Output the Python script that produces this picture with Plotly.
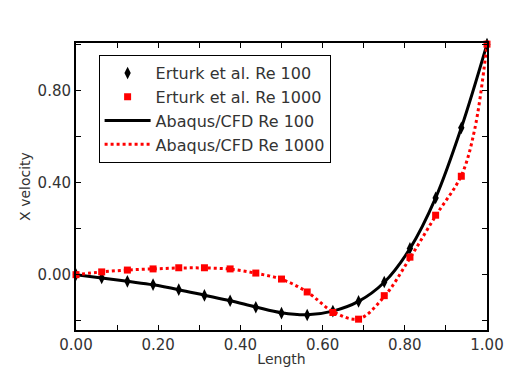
import plotly.graph_objects as go

# ---- data ----
length = [0.0, 0.0625, 0.125, 0.1875, 0.25, 0.3125, 0.375, 0.4375, 0.5,
          0.5625, 0.625, 0.6875, 0.75, 0.8125, 0.875, 0.9375, 1.0]
erturk_re100 = [0.0, -0.014, -0.029, -0.043, -0.065, -0.090, -0.113, -0.141, -0.167,
                -0.175, -0.158, -0.116, -0.032, 0.114, 0.333, 0.637, 1.0]
erturk_re1000 = [0.0, 0.012, 0.020, 0.025, 0.030, 0.030, 0.025, 0.007, -0.019,
                 -0.075, -0.164, -0.193, -0.091, 0.076, 0.258, 0.427, 1.0]

cfd_length_re100 = length
cfd_re100 = [0.0, -0.014, -0.029, -0.044, -0.065, -0.089, -0.113, -0.140, -0.165,
             -0.174, -0.158, -0.116, -0.033, 0.113, 0.333, 0.637, 1.0]
cfd_length_re1000 = [0.0, 0.0625, 0.125, 0.1875, 0.25, 0.3125, 0.375, 0.4375, 0.5,
                     0.5625, 0.625, 0.6875, 0.75, 0.8125, 0.875, 0.9375, 0.97, 1.0]
cfd_re1000 = [0.0, 0.012, 0.020, 0.025, 0.029, 0.029, 0.024, 0.006, -0.020,
              -0.075, -0.160, -0.192, -0.095, 0.072, 0.255, 0.430, 0.63, 1.0]

x_tick_vals = [0.0, 0.2, 0.4, 0.6, 0.8, 1.0]
x_tick_text = ["0.00", "0.20", "0.40", "0.60", "0.80", "1.00"]
y_tick_vals = [0.0, 0.4, 0.8]
y_tick_text = ["0.00", "0.40", "0.80"]

fig = go.Figure()

fig.add_trace(go.Scatter(
    x=cfd_length_re100, y=cfd_re100, mode="lines", name="Abaqus/CFD Re 100",
    line=dict(color="black", width=3, shape="spline"), legendrank=3))
fig.add_trace(go.Scatter(
    x=cfd_length_re1000, y=cfd_re1000, mode="lines", name="Abaqus/CFD Re 1000",
    line=dict(color="#ff0000", width=3, dash="dot", shape="spline"), legendrank=4))
fig.add_trace(go.Scatter(
    x=length, y=erturk_re100, mode="markers", name="Erturk et al. Re 100",
    marker=dict(symbol="diamond-tall", size=9, color="black"),
    cliponaxis=False, legendrank=1))
fig.add_trace(go.Scatter(
    x=length, y=erturk_re1000, mode="markers", name="Erturk et al. Re 1000",
    marker=dict(symbol="square", size=7, color="#ff0000"),
    cliponaxis=False, legendrank=2))

font_family = "DejaVu Sans"
axis_common = dict(
    showline=True, linecolor="black", linewidth=2, mirror="ticks",
    ticks="inside", ticklen=5, tickcolor="black", tickwidth=1,
    showgrid=False, zeroline=False,
    tickfont=dict(family=font_family, size=15, color="#333"),
)

fig.update_layout(
    width=516, height=383,
    margin=dict(l=76, r=24, t=43, b=53),
    plot_bgcolor="white", paper_bgcolor="white",
    xaxis=dict(range=[0, 1], tickmode="array", tickvals=x_tick_vals, ticktext=x_tick_text,
               minor=dict(dtick=0.1, ticks="inside", ticklen=5, tickcolor="black", showgrid=False),
               title=dict(text="Length", font=dict(family=font_family, size=14, color="#333"),
                          standoff=1),
               **axis_common),
    yaxis=dict(range=[-0.24, 1.005], tickmode="array", tickvals=y_tick_vals, ticktext=y_tick_text,
               minor=dict(dtick=0.2, tick0=0, ticks="inside", ticklen=5, tickcolor="black", showgrid=False),
               title=dict(text="X velocity", font=dict(family=font_family, size=14, color="#333"),
                          standoff=4),
               **axis_common),
    legend=dict(x=0.055, y=0.958, xanchor="left", yanchor="top",
                bgcolor="white", bordercolor="black", borderwidth=1,
                font=dict(family=font_family, size=16, color="#333"),
                itemwidth=46, traceorder="normal"),
    showlegend=True,
)

fig.write_html("out.html", config={"displayModeBar": False},
               post_script="document.body.style.margin='0';")
